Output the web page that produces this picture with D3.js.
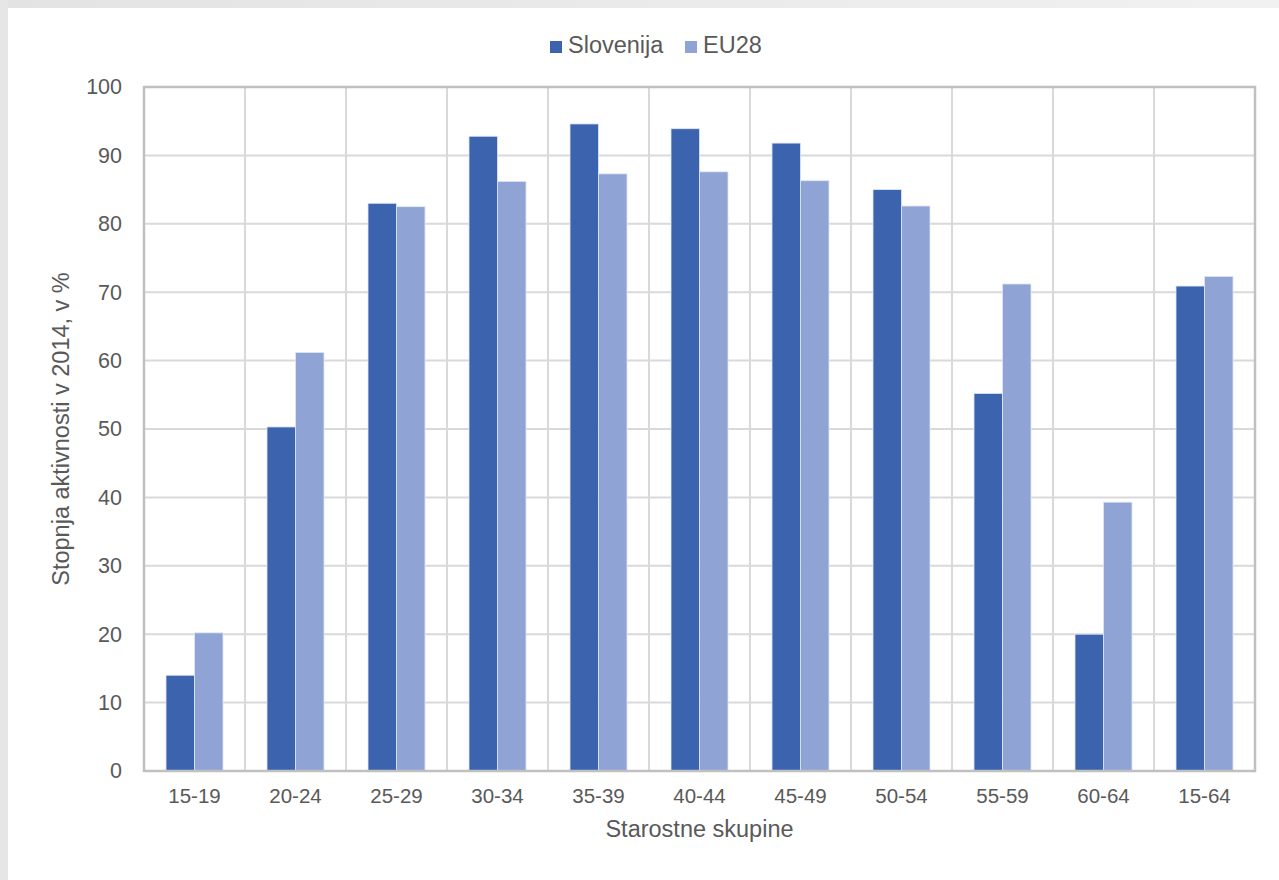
<!DOCTYPE html>
<html>
<head>
<meta charset="utf-8">
<script src="https://cdn.jsdelivr.net/npm/d3@7"></script>
<style>
  body { margin: 0; background: #fff; }
  svg { display: block; font-family: "Liberation Sans", Arial, sans-serif; }
</style>
</head>
<body>
<div id="chart"></div>
<script>
const categories = ['15-19', '20-24', '25-29', '30-34', '35-39', '40-44', '45-49', '50-54', '55-59', '60-64', '15-64'];
const slovenija = [14.0, 50.3, 83.0, 92.8, 94.6, 93.9, 91.8, 85.0, 55.2, 20.0, 70.9];
const eu28 = [20.2, 61.2, 82.5, 86.2, 87.3, 87.6, 86.3, 82.6, 71.2, 39.3, 72.3];
const seriesNames = ['Slovenija', 'EU28'];
const yTicks = [0, 10, 20, 30, 40, 50, 60, 70, 80, 90, 100];

const W = 1279, H = 880;
const margin = {left: 144, top: 87, right: 24, bottom: 109};
const width = W - margin.left - margin.right;
const height = H - margin.top - margin.bottom;
const colors = ['#3c64ae', '#8fa4d4'];
const textColor = '#595959';

const svg = d3.select('#chart').append('svg')
  .attr('width', W).attr('height', H);

// light frame top / left
const grad = svg.append('defs').append('linearGradient').attr('id', 'topband');
grad.append('stop').attr('offset', '0%').attr('stop-color', '#e3e3e3');
grad.append('stop').attr('offset', '100%').attr('stop-color', '#f1f1f1');
svg.append('rect').attr('x', 0).attr('y', 0).attr('width', W).attr('height', 8).attr('fill', 'url(#topband)');
svg.append('rect').attr('x', 0).attr('y', 0).attr('width', 8).attr('height', H).attr('fill', '#e6e6e6');

const x = d3.scaleBand().domain(categories).range([0, width]);
const x1 = d3.scaleBand().domain(seriesNames).range([22, x.bandwidth() - 22]);
const y = d3.scaleLinear().domain([0, 100]).range([height, 0]);

const g = svg.append('g').attr('transform', `translate(${margin.left},${margin.top})`);

// horizontal gridlines
g.append('g').selectAll('line').data(yTicks.slice(1, -1)).enter().append('line')
  .attr('x1', 0).attr('x2', width)
  .attr('y1', d => y(d)).attr('y2', d => y(d))
  .attr('stroke', '#d9d9d9').attr('stroke-width', 2);

// vertical gridlines at category boundaries
g.append('g').selectAll('line').data(categories.slice(1)).enter().append('line')
  .attr('x1', d => x(d)).attr('x2', d => x(d))
  .attr('y1', 0).attr('y2', height)
  .attr('stroke', '#d9d9d9').attr('stroke-width', 2);

// bars
const groups = g.selectAll('.grp').data(categories).enter().append('g')
  .attr('transform', d => `translate(${x(d)},0)`);
groups.selectAll('rect')
  .data((d, i) => [{s: seriesNames[0], v: slovenija[i]}, {s: seriesNames[1], v: eu28[i]}])
  .enter().append('rect')
  .attr('x', d => x1(d.s))
  .attr('width', x1.bandwidth())
  .attr('y', d => y(d.v))
  .attr('height', d => height - y(d.v))
  .attr('fill', (d, i) => colors[i])
  .attr('stroke', '#dfe6f4').attr('stroke-width', 0.8);

// plot border
g.append('rect').attr('x', 0).attr('y', 0).attr('width', width).attr('height', height)
  .attr('fill', 'none').attr('stroke', '#c0c0c0').attr('stroke-width', 2.5);

// y axis labels
const yAxis = g.append('g').call(d3.axisLeft(y).tickValues(yTicks).tickSize(0).tickPadding(22));
yAxis.select('.domain').remove();
yAxis.selectAll('text').attr('font-size', 21.5).attr('fill', textColor)
  .attr('font-family', '"Liberation Sans", Arial, sans-serif');

// x axis labels
const xAxis = g.append('g').attr('transform', `translate(0,${height})`)
  .call(d3.axisBottom(x).tickSize(0).tickPadding(17));
xAxis.select('.domain').remove();
xAxis.selectAll('text').attr('font-size', 20.5).attr('fill', textColor)
  .attr('font-family', '"Liberation Sans", Arial, sans-serif');

// axis titles
svg.append('text').attr('x', margin.left + width / 2).attr('y', 837)
  .attr('text-anchor', 'middle').attr('font-size', 23.5).attr('fill', textColor)
  .text('Starostne skupine');
svg.append('text')
  .attr('transform', `translate(69,${margin.top + height / 2}) rotate(-90)`)
  .attr('text-anchor', 'middle').attr('font-size', 23.5).attr('fill', textColor)
  .text('Stopnja aktivnosti v 2014, v %');

// legend
const legendPos = [550, 685];
const legend = svg.append('g').selectAll('g').data(seriesNames).enter().append('g')
  .attr('transform', (d, i) => `translate(${legendPos[i]},41)`);
legend.append('rect').attr('width', 12).attr('height', 12).attr('fill', (d, i) => colors[i]);
legend.append('text').attr('x', 18).attr('y', 12).attr('font-size', 23.5).attr('fill', textColor)
  .text(d => d);
</script>
</body>
</html>
